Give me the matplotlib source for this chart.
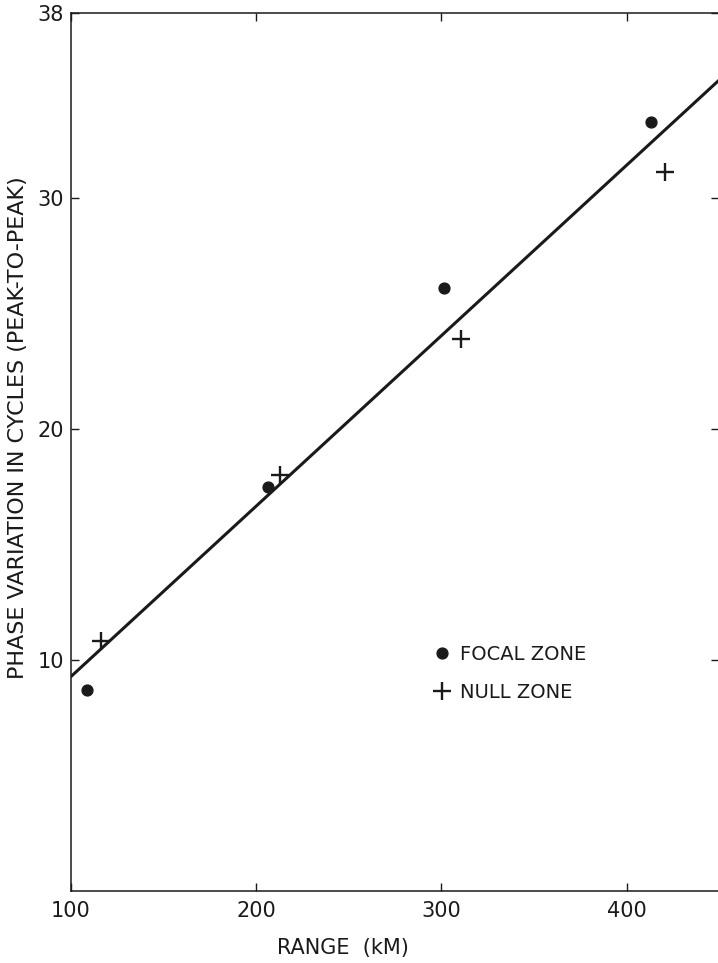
import matplotlib
matplotlib.use("Agg")
import matplotlib.pyplot as plt
from matplotlib.lines import Line2D

# Measured phase variation vs. range
focal_range = [108.6, 206.4, 301.5, 413.0]
focal_phase = [8.7, 17.5, 26.1, 33.3]

null_range = [116.4, 212.8, 310.4, 420.7]
null_phase = [10.8, 18.0, 23.9, 31.1]

# Straight-line fit drawn across the plot
fit_range = [100, 450]
fit_phase = [9.27, 35.1]

x_ticks = [100, 200, 300, 400]
y_ticks = [10, 20, 30, 38]
y_labels = ["10", "20", "30", "38"]

ink = "#1a1a1a"
plt.rcParams["font.family"] = ["DejaVu Sans"]

fig = plt.figure(figsize=(7.18, 9.63), dpi=100)
ax = fig.add_axes([70.7 / 718, 1 - 891 / 963, 648.5 / 718, 878 / 963])

ax.plot(fit_range, fit_phase, color=ink, lw=2.2, solid_capstyle="butt")
ax.plot(focal_range, focal_phase, "o", color=ink, ms=7.8, ls="none")
ax.plot(null_range, null_phase, "+", color=ink, ms=13, mew=1.7, ls="none")

ax.set_xlim(100, 450)
ax.set_ylim(0, 38)
ax.set_xticks(x_ticks)
ax.set_yticks(y_ticks)
ax.set_yticklabels(y_labels)

for s in ax.spines.values():
    s.set_linewidth(1.1)
    s.set_color(ink)

ax.tick_params(axis="both", direction="in", length=6, width=1.0, color=ink,
               labelsize=15, labelcolor=ink, top=True, right=True)
ax.tick_params(axis="x", pad=7)
ax.tick_params(axis="y", pad=5)

fig.text(343 / 718, 1 - 948 / 963, "RANGE  (kM)", ha="center", va="center",
         fontsize=15, color=ink)
fig.text(18 / 718, 1 - 428 / 963, "PHASE VARIATION IN CYCLES (PEAK-TO-PEAK)",
         ha="center", va="center", rotation=90, fontsize=16, color=ink)

handles = [
    Line2D([], [], marker="o", color=ink, ls="none", ms=7.8),
    Line2D([], [], marker="+", color=ink, ls="none", ms=13, mew=1.7),
]
ax.legend(handles, ["FOCAL ZONE", "NULL ZONE"], loc="upper left",
          bbox_to_anchor=(432.3 / 718, 1 - 644.5 / 963), bbox_transform=fig.transFigure,
          frameon=False, fontsize=14, handlelength=1.0, handletextpad=0.43,
          labelspacing=0.98, borderpad=0, borderaxespad=0, labelcolor=ink)

fig.savefig("out.png", dpi=100, facecolor="white")
